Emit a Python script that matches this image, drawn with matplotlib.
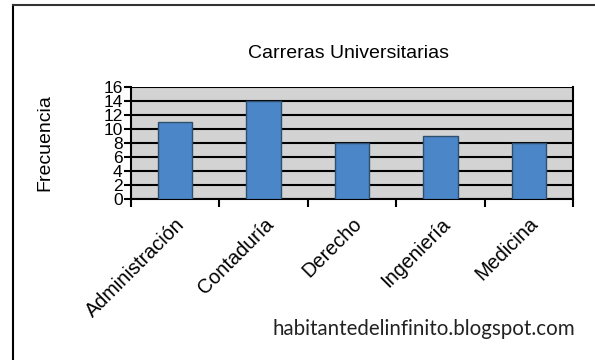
import matplotlib.pyplot as plt
import numpy as np

plt.rcParams['font.family'] = ['Liberation Sans', 'DejaVu Sans']

carreras = ['Administración', 'Contaduría', 'Derecho', 'Ingeniería', 'Medicina']
frecuencia = [11, 14, 8, 9, 8]
yticks = list(range(0, 17, 2))

W, H = 595, 360
fig = plt.figure(figsize=(W / 100, H / 100), dpi=100)
fig.patch.set_facecolor('white')

# outer frame (left and top edges only)
fig.add_artist(plt.Line2D([13 / W, 13 / W], [0, 1 - 4.5 / H], color='black', lw=1.5))
fig.add_artist(plt.Line2D([13 / W, 1], [1 - 4.5 / H, 1 - 4.5 / H], color='#333333', lw=1.5))

left, right, top, bottom = 131, 573, 87, 199
ax = fig.add_axes([left / W, 1 - bottom / H, (right - left) / W, (bottom - top) / H])
ax.set_facecolor('#d3d3d3')

x = np.arange(len(carreras))
ax.bar(x, frecuencia, width=0.39, color='#4a86c8', edgecolor='#2f4f6f', linewidth=1.0, zorder=3)

ax.set_xlim(-0.5, len(carreras) - 0.5)
ax.set_ylim(0, 16)
ax.set_yticks(yticks)
ax.set_yticklabels([str(v) for v in yticks], fontsize=12.5)
ax.tick_params(axis='y', length=5, width=1.5, pad=1)
ax.yaxis.grid(True, color='black', linewidth=1.5, zorder=1)

# category ticks sit on boundaries, labels at centres
ax.set_xticks(np.arange(len(carreras) + 1) - 0.5)
ax.set_xticklabels([])
ax.tick_params(axis='x', length=6, width=1.5)
ax.set_xticks(x, minor=True)
ax.set_xticklabels(carreras, minor=True, rotation=45, ha='right', rotation_mode='anchor', fontsize=14.3)
ax.tick_params(axis='x', which='minor', length=0, pad=11)

for s in ['left', 'right', 'bottom']:
    ax.spines[s].set_linewidth(1.5)
ax.spines['top'].set_visible(False)

fig.text(45 / W, 1 - 143 / H, 'Frecuencia', rotation=90, ha='center', va='center', fontsize=14)
fig.text(349 / W, 1 - 53 / H, 'Carreras Universitarias', ha='center', va='center', fontsize=14)
fig.text(575 / W, 1 - 329 / H, 'habitantedelinfinito.blogspot.com', ha='right', va='center',
         fontsize=14.8, family=['Lato', 'DejaVu Sans'], color='#222222')

fig.savefig('out.png', dpi=100)
